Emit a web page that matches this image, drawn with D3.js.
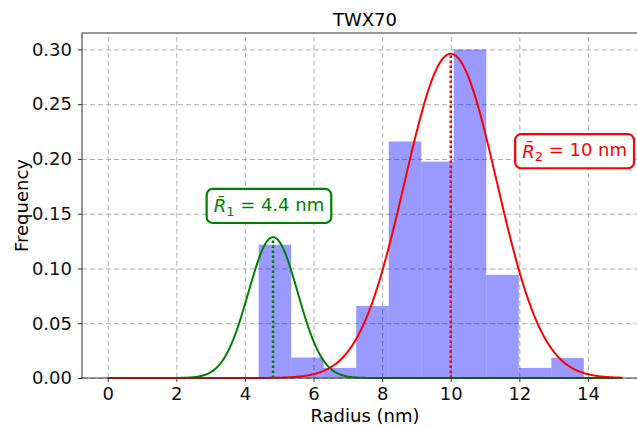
<!DOCTYPE html>
<html lang="en">
<head>
    <meta charset="UTF-8">
    <title>TWX70 radius histogram</title>
    <style>
        body { margin: 0; background: #fff; }
        svg { display: block; font-family: "DejaVu Sans", sans-serif; }
    </style>
</head>
<body>
<script src="https://cdn.jsdelivr.net/npm/d3@7"></script>
<script>
    // histogram: bin edges (nm) and normalised frequencies
    const binEdges = [4.40, 5.348, 6.296, 7.244, 8.192, 9.14, 10.088, 11.036, 11.984, 12.932, 13.88];
    const binFreq = [0.1217, 0.0187, 0.0092, 0.0658, 0.216, 0.1976, 0.300, 0.0942, 0.0092, 0.0183];

    // fitted gaussians (mean, sigma, peak height)
    const fitMean = [4.82, 10.0];
    const fitSigma = [0.72, 1.34];
    const fitPeak = [0.1286, 0.296];
    const fitColor = ["green", "red"];
    const fitRange = [0, 15];

    // annotation labels
    const labelSub = ["1", "2"];
    const labelValue = ["4.4", "10"];
    const labelAt = [[4.70, 0.157], [13.61, 0.207]];

    const xTicks = [0, 2, 4, 6, 8, 10, 12, 14];
    const yTicks = [0, 0.05, 0.10, 0.15, 0.20, 0.25, 0.30];

    const width = 637, height = 427;
    const margin = ({top: 33, right: -11, bottom: 49, left: 82});
    const fs = "18px";

    const x = d3.scaleLinear()
        .domain([-0.75, 15.75])
        .range([margin.left, width - margin.right]);
    const y = d3.scaleLinear()
        .domain([0, 0.315])
        .range([height - margin.bottom, margin.top]);

    const svg = d3.select("body").append("svg")
        .attr("width", width)
        .attr("height", height)
        .attr("viewBox", [0, 0, width, height]);

    // grid
    svg.append("g")
        .attr("transform", `translate(0,${y(0)})`)
        .call(d3.axisBottom(x).tickValues(xTicks).tickSize(-(y(0) - y(0.315))).tickFormat(""))
        .call(g => g.select(".domain").remove())
        .call(g => g.selectAll("line").attr("stroke", "#b0b0b0").attr("stroke-dasharray", "5,3"));
    svg.append("g")
        .attr("transform", `translate(${margin.left},0)`)
        .call(d3.axisLeft(y).tickValues(yTicks).tickSize(-(x(15.75) - margin.left)).tickFormat(""))
        .call(g => g.select(".domain").remove())
        .call(g => g.selectAll("line").attr("stroke", "#b0b0b0").attr("stroke-dasharray", "5,3"));

    // bars
    svg.append("g")
        .attr("fill", "blue")
        .attr("fill-opacity", 0.4)
        .selectAll("rect")
        .data(binFreq)
        .join("rect")
        .attr("x", (d, i) => x(binEdges[i]))
        .attr("width", (d, i) => x(binEdges[i + 1]) - x(binEdges[i]))
        .attr("y", d => y(d))
        .attr("height", d => y(0) - y(d));

    // gaussian fits and mean markers
    const line = d3.line().x(d => x(d[0])).y(d => y(d[1]));
    const xs = d3.range(fitRange[0], fitRange[1] + 0.001, 0.02);
    fitMean.forEach((m, k) => {
        const pts = xs.map(v => [v, fitPeak[k] * Math.exp(-((v - m) ** 2) / (2 * fitSigma[k] ** 2))]);
        svg.append("path")
            .datum(pts)
            .attr("fill", "none")
            .attr("stroke", fitColor[k])
            .attr("stroke-width", 2)
            .attr("d", line);
        svg.append("line")
            .attr("x1", x(m)).attr("x2", x(m))
            .attr("y1", y(0)).attr("y2", y(fitPeak[k]))
            .attr("stroke", fitColor[k])
            .attr("stroke-width", 2.5)
            .attr("stroke-dasharray", "2.5,2.5");
    });

    // spines
    svg.append("rect")
        .attr("x", margin.left)
        .attr("y", margin.top)
        .attr("width", x(15.75) - margin.left)
        .attr("height", y(0) - margin.top)
        .attr("fill", "none")
        .attr("stroke", "#333")
        .attr("stroke-width", 1);

    // axes
    svg.append("g")
        .attr("transform", `translate(0,${y(0)})`)
        .style("font", `${fs} 'DejaVu Sans'`)
        .call(d3.axisBottom(x).tickValues(xTicks).tickSize(4).tickPadding(5).tickFormat(d3.format("d")))
        .call(g => g.select(".domain").remove())
        .call(g => g.selectAll("line").attr("stroke", "#333"))
        .call(g => g.selectAll("text").attr("fill", "#111"));
    svg.append("g")
        .attr("transform", `translate(${margin.left},0)`)
        .style("font", `${fs} 'DejaVu Sans'`)
        .call(d3.axisLeft(y).tickValues(yTicks).tickSize(4).tickPadding(6).tickFormat(d3.format(".2f")))
        .call(g => g.select(".domain").remove())
        .call(g => g.selectAll("line").attr("stroke", "#333"))
        .call(g => g.selectAll("text").attr("fill", "#111"));

    // titles
    const cx = (margin.left + x(15.75)) / 2;
    svg.append("text")
        .attr("x", cx).attr("y", 26)
        .attr("text-anchor", "middle")
        .style("font-size", fs)
        .text("TWX70");
    svg.append("text")
        .attr("x", cx).attr("y", 422)
        .attr("text-anchor", "middle")
        .style("font-size", fs)
        .text("Radius (nm)");
    svg.append("text")
        .attr("transform", `translate(28,${(margin.top + y(0)) / 2}) rotate(-90)`)
        .attr("text-anchor", "middle")
        .style("font-size", fs)
        .text("Frequency");

    // annotation boxes
    labelSub.forEach((s, k) => {
        const g = svg.append("g");
        const t = g.append("text")
            .attr("x", x(labelAt[k][0]))
            .attr("y", y(labelAt[k][1]))
            .attr("dy", "0.35em")
            .attr("text-anchor", "middle")
            .attr("fill", fitColor[k])
            .style("font-size", fs);
        t.append("tspan").style("font-style", "italic").text("R\u0304");
        t.append("tspan").attr("dy", "0.28em").style("font-size", "13px").text(s);
        t.append("tspan").attr("dy", "-0.28em").text(` = ${labelValue[k]} nm`);
        const b = t.node().getBBox();
        g.insert("rect", "text")
            .attr("x", b.x - 7).attr("y", b.y - 5)
            .attr("width", b.width + 14).attr("height", b.height + 9)
            .attr("rx", 6)
            .attr("fill", "white")
            .attr("stroke", fitColor[k])
            .attr("stroke-width", 2.2);
    });
</script>
</body>
</html>
